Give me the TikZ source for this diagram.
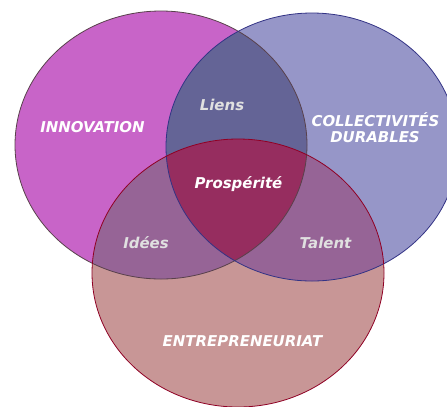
\documentclass[tikz,border=0pt]{standalone}
\usepackage{fontspec}
\setmainfont{DejaVu Sans}
\begin{document}
\begin{tikzpicture}[x=1bp,y=-1bp,
  lbl/.style={anchor=base,inner sep=0pt,text=white,font=\fontsize{15}{17}\selectfont\bfseries\itshape},
  sublbl/.style={lbl,text=black!12},
  rim/.style={line width=0.8bp}]
  \definecolor{innov}{RGB}{200,100,200}
  \definecolor{collec}{RGB}{150,150,200}
  \definecolor{entre}{RGB}{200,150,150}
  \definecolor{liens}{RGB}{100,100,150}
  \definecolor{pair}{RGB}{150,100,150}
  \definecolor{core}{RGB}{150,45,95}
  \useasboundingbox (0,0) rectangle (447,406);
  \clip (0,0) rectangle (447,406);
  \def\setM{(161,145) ellipse [x radius=146, y radius=134]}
  \def\setB{(312,147) ellipse [x radius=146, y radius=134]}
  \def\setE{(238,273) ellipse [x radius=146, y radius=134]}
  % single sets
  \fill[innov] \setM;
  \fill[collec] \setB;
  \fill[entre] \setE;
  % pairwise overlaps
  \begin{scope}\clip \setM; \fill[liens] \setB; \fill[pair] \setE; \end{scope}
  \begin{scope}\clip \setB; \fill[pair] \setE; \end{scope}
  % triple overlap
  \begin{scope}\clip \setM; \clip \setB; \fill[core] \setE; \end{scope}
  % outlines
  \draw[rim,draw=black!75!magenta] \setM;
  \draw[rim,draw=blue!40!black!80] \setB;
  \draw[rim,draw=purple!80!red!70!black] \setE;
  % labels
  \node[lbl] (innovation) at (92.5,132.7) {INNOVATION};
  \node[lbl] (collectivites) at (375.5,126) {COLLECTIVITÉS};
  \node[lbl] (durables) at (375,142.7) {DURABLES};
  \node[lbl] (entrepreneuriat) at (242.5,346.7) {ENTREPRENEURIAT};
  \node[lbl] (prosperite) at (238.5,188.7) {Prospérité};
  \node[sublbl] (liens-l) at (222,110) {Liens};
  \node[sublbl] (idees) at (146,248) {Idées};
  \node[sublbl] (talent) at (325.5,248) {Talent};
\end{tikzpicture}
\end{document}
